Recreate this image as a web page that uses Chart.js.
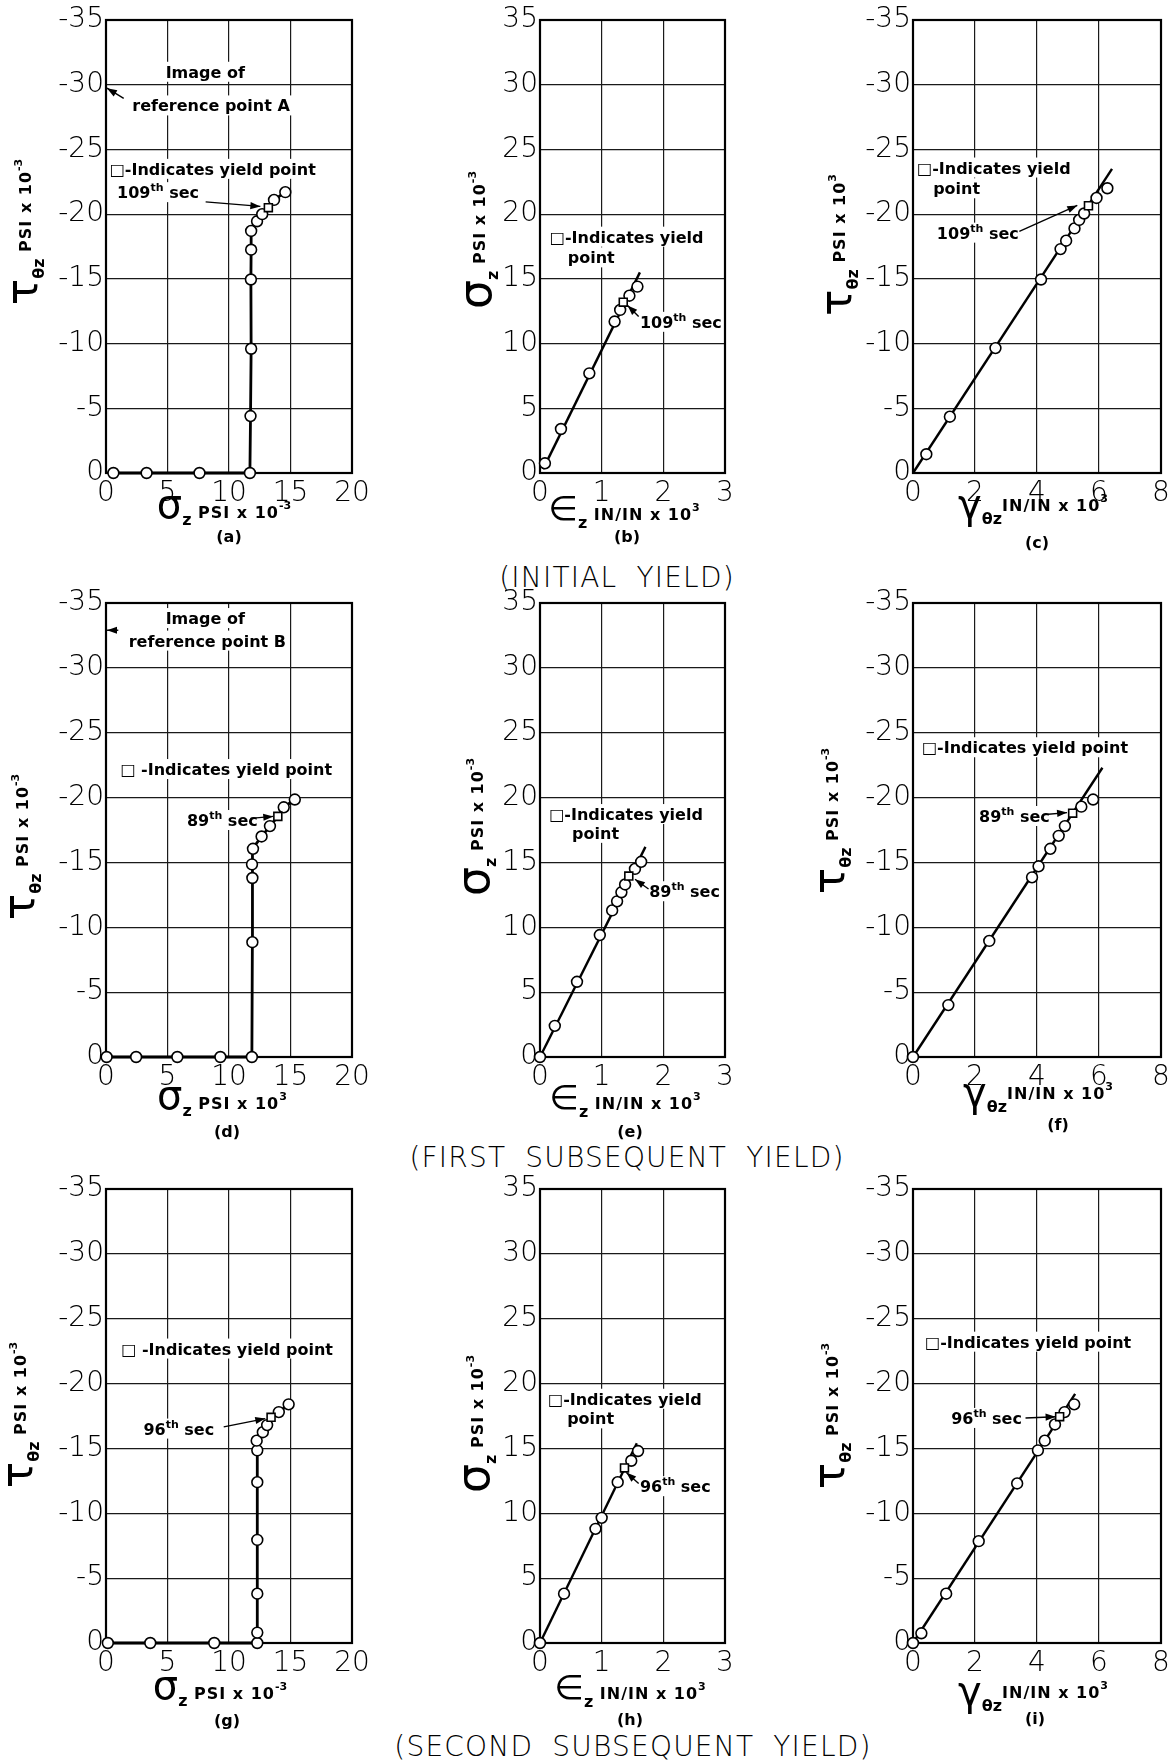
<!DOCTYPE html>
<html><head><meta charset="utf-8">
<script src="https://cdn.jsdelivr.net/npm/chart.js@4.4.0/dist/chart.umd.min.js"></script>
<style>
html,body{margin:0;padding:0;background:#fff;width:1176px;height:1764px;overflow:hidden;position:relative;}
canvas{position:absolute;}
.sec{position:absolute;font-family:'DejaVu Sans',sans-serif;font-weight:200;font-size:28px;letter-spacing:1.2px;word-spacing:9px;white-space:nowrap;transform:translate(-50%,-50%);color:#000;}
</style></head><body>
<div class="sec" style="left:617px;top:577px">(INITIAL YIELD)</div>
<div class="sec" style="left:627px;top:1157px">(FIRST SUBSEQUENT YIELD)</div>
<div class="sec" style="left:633px;top:1746px">(SECOND SUBSEQUENT YIELD)</div>
<script>
// ---------- tick labels ----------
const tauTicks    = [0,-5,-10,-15,-20,-25,-30,-35];
const sigmaYTicks = [0,5,10,15,20,25,30,35];
const sigmaXTicks = [0,5,10,15,20];
const epsTicks    = [0,1,2,3];
const gammaTicks  = [0,2,4,6,8];

// ---------- (a) initial yield: tau vs sigma ----------
const aSigma = [0.6, 3.3, 7.6, 11.7, 11.75, 11.8, 11.78, 11.8, 11.8, 12.28, 12.7, 13.2, 13.66, 14.58];
const aTau   = [0, 0, 0, 0, -4.4, -9.6, -14.95, -17.25, -18.7, -19.45, -20.0, -20.5, -21.1, -21.7];
const aYield = 11;
// ---------- (b) initial yield: sigma vs eps ----------
const bEps   = [0.08, 0.34, 0.80, 1.21, 1.30, 1.35, 1.45, 1.58];
const bSigma = [0.75, 3.4, 7.7, 11.7, 12.6, 13.2, 13.7, 14.4];
const bYield = 5;
const bFitEps = [0.05, 1.62], bFitSigma = [0.3, 15.5];
// ---------- (c) initial yield: tau vs gamma ----------
const cGamma = [0.43, 1.19, 2.66, 4.13, 4.76, 4.94, 5.21, 5.36, 5.52, 5.66, 5.92, 6.27];
const cTau   = [-1.45, -4.35, -9.65, -14.95, -17.3, -17.95, -18.9, -19.55, -20.05, -20.65, -21.25, -22.0];
const cYield = 9;
const cFitGamma = [0, 6.42], cFitTau = [0, -23.5];
// ---------- (d) first subsequent: tau vs sigma ----------
const dSigma = [0.05, 2.45, 5.8, 9.3, 11.86, 11.9, 11.9, 11.87, 11.95, 12.65, 13.33, 13.97, 14.45, 15.35];
const dTau   = [0, 0, 0, 0, 0, -8.85, -13.8, -14.85, -16.05, -17.0, -17.8, -18.55, -19.25, -19.85];
const dYield = 11;
// ---------- (e) first subsequent: sigma vs eps ----------
const eEps   = [0, 0.24, 0.6, 0.97, 1.17, 1.25, 1.32, 1.38, 1.44, 1.54, 1.64];
const eSigma = [0, 2.4, 5.8, 9.4, 11.3, 12.0, 12.7, 13.3, 13.95, 14.5, 15.05];
const eYield = 8;
const eFitEps = [0, 1.71], eFitSigma = [0, 16.2];
// ---------- (f) first subsequent: tau vs gamma ----------
const fGamma = [0, 1.14, 2.46, 3.84, 4.05, 4.43, 4.70, 4.90, 5.15, 5.43, 5.81];
const fTau   = [0, -4.0, -8.95, -13.85, -14.7, -16.05, -17.05, -17.8, -18.8, -19.3, -19.85];
const fYield = 8;
const fFitGamma = [0, 6.11], fFitTau = [0, -22.3];
// ---------- (g) second subsequent: tau vs sigma ----------
const gSigma = [0.15, 3.6, 8.8, 12.3, 12.3, 12.3, 12.3, 12.3, 12.3, 12.25, 12.75, 13.1, 13.42, 14.05, 14.85];
const gTau   = [0, 0, 0, 0, -0.8, -3.8, -7.95, -12.4, -14.85, -15.6, -16.25, -16.8, -17.4, -17.8, -18.4];
const gYield = 12;
// ---------- (h) second subsequent: sigma vs eps ----------
const hEps   = [0, 0.39, 0.9, 1.0, 1.26, 1.37, 1.48, 1.59];
const hSigma = [0, 3.8, 8.8, 9.65, 12.4, 13.5, 14.05, 14.8];
const hYield = 5;
const hFitEps = [0, 1.57], hFitSigma = [0, 15.4];
// ---------- (i) second subsequent: tau vs gamma ----------
const iGamma = [0, 0.27, 1.07, 2.12, 3.36, 4.03, 4.25, 4.58, 4.73, 4.89, 5.2];
const iTau   = [0, -0.75, -3.8, -7.85, -12.3, -14.85, -15.6, -16.85, -17.45, -17.8, -18.4];
const iYield = 8;
const iFitGamma = [0, 5.23], iFitTau = [0, -19.2];

// ---------- layout ----------
const COLS = [{L:106,R:352},{L:540,R:725},{L:913,R:1161}];
const ROWS = [{T:20,B:473},{T:603,B:1057},{T:1189,B:1643}];
const PADL = 105, PADT = 20, PADB = 92;
const PADR = [30, 30, 15];

// ---------- text helpers ----------
function S(t,size,w,dy,ls,fam){return {t,size,w:w||'bold',dy:dy||0,ls:ls||0,f:fam||'DejaVu Sans'};}
const TITLES = {
  tauM: [S('τ',44,'normal'), S('θz',16,'bold',7), S(' PSI x 10',16,'bold',-6,1), S('-3',11,'bold',-15)],
  tauP: [S('τ',44,'normal'), S('θz',16,'bold',7), S(' PSI x 10',16,'bold',-6,1), S('3',11,'bold',-15)],
  sigY: [S('σ',46,'normal'), S('z',16,'bold',7), S(' PSI x 10',16,'bold',-6,1), S('-3',11,'bold',-15)],
  sigXm:[S('σ',40,'normal'), S('z',16,'bold',7), S(' PSI x 10',16,'bold',0,1), S('-3',11,'bold',-9)],
  sigXp:[S('σ',40,'normal'), S('z',16,'bold',7), S(' PSI x 10',16,'bold',0,1), S('3',11,'bold',-9)],
  eps:  [S('∈',34,'normal'), S('z',16,'bold',8), S(' IN/IN x 10',16,'bold',0,1), S('3',11,'bold',-9)],
  gam:  [S('γ',40,'normal'), S('θz',16,'bold',6), S('IN/IN x 10',16,'bold',-7,1), S('3',11,'bold',-16)]
};
const ANN = 16;
const note = (x,y,str,align) => ({x,y,align:align||'l',segs:[S(str,ANN,'bold')]});
const secNote = (x,y,num) => ({x,y,align:'l',segs:[S(num,ANN,'bold'),S('th',11,'bold',-7),S(' sec',ANN,'bold')]});

const PANELS = [
 {k:'a',c:0,r:0,xs:aSigma,ys:aTau,yi:aYield,fx:null,fy:null,xt:sigmaXTicks,yt:tauTicks,yT:'tauM',xT:'sigXm',cap:'(a)',
  pos:{y:[28,232],x:[224,512],c:[229,536]},
  notes:[note(8.07,-31.0,'Image of','c'), note(8.54,-28.4,'reference point A','c'),
         note(0.3,-23.5,'□-Indicates yield point'), secNote(0.9,-21.7,'109')],
  arrows:[[1.44,-28.95,0.08,-29.73],[8.1,-20.95,12.55,-20.6]]},
 {k:'b',c:1,r:0,xs:bEps,ys:bSigma,yi:bYield,fx:bFitEps,fy:bFitSigma,xt:epsTicks,yt:sigmaYTicks,yT:'sigY',xT:'eps',cap:'(b)',
  pos:{y:[482,240],x:[624,514],c:[627,536]},
  notes:[note(0.16,18.26,'□-Indicates yield'), note(0.45,16.66,'point'), secNote(1.62,11.68,'109')],
  arrows:[[1.6,12.1,1.42,12.95]]},
 {k:'c',c:2,r:0,xs:cGamma,ys:cTau,yi:cYield,fx:cFitGamma,fy:cFitTau,xt:gammaTicks,yt:tauTicks,yT:'tauP',xT:'gam',cap:'(c)',
  pos:{y:[842,245],x:[1033,512],c:[1037,542]},
  notes:[note(0.13,-23.6,'□-Indicates yield'), note(0.65,-22.0,'point'), secNote(0.77,-18.57,'109')],
  arrows:[[3.43,-18.66,5.30,-20.67]]},
 {k:'d',c:0,r:1,xs:dSigma,ys:dTau,yi:dYield,fx:null,fy:null,xt:sigmaXTicks,yt:tauTicks,yT:'tauM',xT:'sigXp',cap:'(d)',
  pos:{y:[25,847],x:[222,1103],c:[227,1131]},
  notes:[note(8.07,-33.84,'Image of','c'), note(8.24,-32.1,'reference point B','c'),
         note(1.17,-22.2,'□ -Indicates yield point'), secNote(6.58,-18.27,'89')],
  arrows:[[1.0,-32.9,0.08,-32.9],[11.75,-18.4,13.6,-18.55]]},
 {k:'e',c:1,r:1,xs:eEps,ys:eSigma,yi:eYield,fx:eFitEps,fy:eFitSigma,xt:epsTicks,yt:sigmaYTicks,yT:'sigY',xT:'eps',cap:'(e)',
  pos:{y:[480,827],x:[625,1103],c:[630,1131]},
  notes:[note(0.15,18.73,'□-Indicates yield'), note(0.52,17.28,'point'), secNote(1.77,12.78,'89')],
  arrows:[[1.76,12.95,1.54,13.7]]},
 {k:'f',c:2,r:1,xs:fGamma,ys:fTau,yi:fYield,fx:fFitGamma,fy:fFitTau,xt:gammaTicks,yt:tauTicks,yT:'tauM',xT:'gam',cap:'(f)',
  pos:{y:[835,821],x:[1038,1100],c:[1058,1124]},
  notes:[note(0.29,-23.88,'□-Indicates yield point'), secNote(2.13,-18.58,'89')],
  arrows:[[4.27,-18.7,4.97,-18.84]]},
 {k:'g',c:0,r:2,xs:gSigma,ys:gTau,yi:gYield,fx:null,fy:null,xt:sigmaXTicks,yt:tauTicks,yT:'tauM',xT:'sigXm',cap:'(g)',
  pos:{y:[23,1415],x:[220,1693],c:[227,1720]},
  notes:[note(1.24,-22.7,'□ -Indicates yield point'), secNote(3.04,-16.53,'96')],
  arrows:[[9.57,-16.66,12.95,-17.3]]},
 {k:'h',c:1,r:2,xs:hEps,ys:hSigma,yi:hYield,fx:hFitEps,fy:hFitSigma,xt:epsTicks,yt:sigmaYTicks,yT:'sigY',xT:'eps',cap:'(h)',
  pos:{y:[480,1424],x:[630,1693],c:[630,1719]},
  notes:[note(0.13,18.83,'□-Indicates yield'), note(0.44,17.32,'point'), secNote(1.62,12.09,'96')],
  arrows:[[1.6,12.3,1.4,13.15]]},
 {k:'i',c:2,r:2,xs:iGamma,ys:iTau,yi:iYield,fx:iFitGamma,fy:iFitTau,xt:gammaTicks,yt:tauTicks,yT:'tauM',xT:'gam',cap:'(i)',
  pos:{y:[835,1416],x:[1033,1699],c:[1035,1718]},
  notes:[note(0.39,-23.23,'□-Indicates yield point'), secNote(1.23,-17.35,'96')],
  arrows:[[3.63,-17.35,4.6,-17.44]]}
];

function fontOf(s){return `${s.w} ${s.size}px '${s.f}', 'DejaVu Sans', sans-serif`;}
function segW(ctx,s){ctx.font=fontOf(s); if('letterSpacing' in ctx) ctx.letterSpacing=(s.ls||0)+'px'; return ctx.measureText(s.t).width;}
function richW(ctx,segs){let w=0; for(const s of segs) w+=segW(ctx,s); return w;}
function drawRich(ctx,segs,x,base){
  let cx=x;
  for(const s of segs){const w=segW(ctx,s); ctx.fillText(s.t,cx,base+s.dy); cx+=w;}
  if('letterSpacing' in ctx) ctx.letterSpacing='0px';
}
function arrow(ctx,x1,y1,x2,y2){
  ctx.beginPath(); ctx.moveTo(x1,y1); ctx.lineTo(x2,y2); ctx.lineWidth=1.4; ctx.strokeStyle='#000'; ctx.stroke();
  const a=Math.atan2(y2-y1,x2-x1), L=10, W=3.6;
  ctx.beginPath(); ctx.moveTo(x2,y2);
  ctx.lineTo(x2-L*Math.cos(a)+W*Math.sin(a), y2-L*Math.sin(a)-W*Math.cos(a));
  ctx.lineTo(x2-L*Math.cos(a)-W*Math.sin(a), y2-L*Math.sin(a)+W*Math.cos(a));
  ctx.closePath(); ctx.fillStyle='#000'; ctx.fill();
}

const deco = {
  id:'deco',
  beforeDatasetsDraw(chart){
    const o=chart.options.plugins.deco, ctx=chart.ctx, X=chart.scales.x, Y=chart.scales.y;
    ctx.save(); ctx.textBaseline='alphabetic'; ctx.textAlign='left';
    for(const n of o.p.notes){
      const px=X.getPixelForValue(n.x), py=Y.getPixelForValue(n.y);
      const w=richW(ctx,n.segs); const x0 = n.align==='c'? px-w/2 : px;
      ctx.fillStyle='#fff'; ctx.fillRect(x0-3,py-10,w+6,20);
      ctx.fillStyle='#000'; drawRich(ctx,n.segs,x0,py+6);
    }
    for(const a of o.p.arrows){
      arrow(ctx,X.getPixelForValue(a[0]),Y.getPixelForValue(a[1]),X.getPixelForValue(a[2]),Y.getPixelForValue(a[3]));
    }
    const ca=chart.chartArea; ctx.strokeStyle='#000'; ctx.lineWidth=2.2;
    ctx.strokeRect(ca.left,ca.top,ca.right-ca.left,ca.bottom-ca.top);
    ctx.restore();
  },
  afterDraw(chart){
    const o=chart.options.plugins.deco, ctx=chart.ctx, p=o.p, ox=o.ox, oy=o.oy;
    ctx.save(); ctx.fillStyle='#000'; ctx.textBaseline='alphabetic'; ctx.textAlign='left';
    let segs=TITLES[p.yT], w=richW(ctx,segs);
    ctx.save(); ctx.translate(p.pos.y[0]-ox, p.pos.y[1]-oy); ctx.rotate(-Math.PI/2);
    drawRich(ctx,segs,-w/2,9); ctx.restore();
    segs=TITLES[p.xT]; w=richW(ctx,segs);
    drawRich(ctx,segs,p.pos.x[0]-ox-w/2,p.pos.x[1]-oy+6);
    ctx.font="bold 16px 'DejaVu Sans', sans-serif"; ctx.textAlign='center';
    ctx.fillText(p.cap,p.pos.c[0]-ox,p.pos.c[1]-oy+6);
    ctx.restore();
  }
};

const tickFont = {family:"'DejaVu Sans', sans-serif", size:28, weight:'200'};

for(const p of PANELS){
  const col=COLS[p.c], row=ROWS[p.r], padR=PADR[p.c];
  const W=(col.R-col.L)+PADL+padR, H=(row.B-row.T)+PADT+PADB;
  const ox=col.L-PADL, oy=row.T-PADT;
  const cv=document.createElement('canvas');
  cv.width=W; cv.height=H; cv.style.width=W+'px'; cv.style.height=H+'px';
  cv.style.left=ox+'px'; cv.style.top=oy+'px';
  document.body.appendChild(cv);
  const pts=p.xs.map((x,i)=>({x,y:p.ys[i]}));
  const circles=pts.filter((_,i)=>i!==p.yi);
  const square=[pts[p.yi]];
  const lineData = p.fx ? p.fx.map((x,i)=>({x,y:p.fy[i]})) : pts;
  const neg = p.yt[p.yt.length-1] < 0;
  const yMin = Math.min(...p.yt), yMax = Math.max(...p.yt);
  new Chart(cv,{
    type:'scatter',
    data:{datasets:[
      {data:square,pointStyle:'rect',pointRadius:5.6,pointBackgroundColor:'#fff',pointBorderColor:'#000',pointBorderWidth:1.6,showLine:false,order:1,clip:false},
      {data:circles,pointStyle:'circle',pointRadius:5.4,pointBackgroundColor:'#fff',pointBorderColor:'#000',pointBorderWidth:1.6,showLine:false,order:2,clip:false},
      {data:lineData,showLine:true,pointRadius:0,borderColor:'#000',borderWidth:p.fx?2.4:2.8,tension:0,order:3,clip:false}
    ]},
    options:{
      responsive:false, animation:false, devicePixelRatio:1, events:[],
      layout:{padding:{top:PADT,right:padR,left:0,bottom:0}},
      plugins:{legend:{display:false},tooltip:{enabled:false},deco:{p,ox,oy}},
      scales:{
        x:{type:'linear',min:p.xt[0],max:p.xt[p.xt.length-1],
           afterBuildTicks:s=>{s.ticks=p.xt.map(v=>({value:v}));},
           afterFit:s=>{s.height=PADB;},
           ticks:{font:tickFont,color:'#000',padding:4,maxRotation:0,autoSkip:false,callback:v=>String(v)},
           grid:{color:'#1a1a1a',lineWidth:1.2,drawTicks:false},border:{display:false}},
        y:{type:'linear',min:yMin,max:yMax,reverse:neg,
           afterBuildTicks:s=>{s.ticks=p.yt.map(v=>({value:v}));},
           afterFit:s=>{s.width=PADL;},
           ticks:{font:tickFont,color:'#000',padding:2,autoSkip:false,callback:v=>String(v)},
           grid:{color:'#1a1a1a',lineWidth:1.2,drawTicks:false},border:{display:false}}
      }
    },
    plugins:[deco]
  });
}
</script>
</body></html>
